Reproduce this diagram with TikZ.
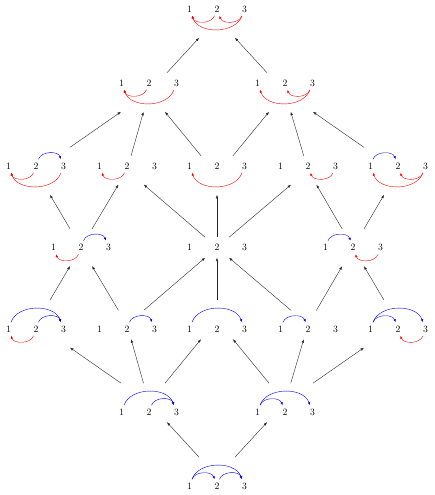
\documentclass[tikz,border=0pt]{standalone}
\usetikzlibrary{arrows.meta,fit}
\tikzset{
  x=1pt,y=1pt,
  lbl/.style={inner sep=3.33pt, font=\fontsize{9.7}{11}\selectfont},
  bluearc/.style={blue,-{Latex[length=3pt,width=2.4pt]}},
  redarc/.style={red,-{Latex[length=3pt,width=2.4pt]}},
  edge/.style={-{Latex[length=3.5pt,width=2.6pt]}, black!85},
  grpbox/.style={inner sep=3.33pt}
}
\newcommand\gname{}
\newcommand\grp[4]{%
  \renewcommand\gname{#1}%
  \begin{scope}[local bounding box=#1bb]
    \node[lbl] (#1-1) at ({#2-27.5},#3) {1};
    \node[lbl] (#1-2) at (#2,#3) {2};
    \node[lbl] (#1-3) at ({#2+27.5},#3) {3};
    #4
  \end{scope}
  \node[grpbox, fit=(#1bb)] (#1) {};
}
\newcommand\bl[2]{\draw[bluearc] (\gname-#1) to[bend left=70] (\gname-#2);}
\newcommand\rd[2]{\draw[redarc] (\gname-#1) to[bend left=70] (\gname-#2);}
\begin{document}
\begin{tikzpicture}
  % row 0
  \grp{r0}{217}{486}{\rd{2}{1}\rd{3}{2}\rd{3}{1}}
  % row 1
  \grp{r1a}{149}{412}{\rd{2}{1}\rd{3}{1}}
  \grp{r1b}{285}{412}{\rd{3}{1}\rd{3}{2}}
  % row 2
  \grp{r2a}{36}{329}{\bl{2}{3}\rd{2}{1}\rd{3}{1}}
  \grp{r2b}{127}{329}{\rd{2}{1}}
  \grp{r2c}{217}{329}{\rd{3}{1}}
  \grp{r2d}{308}{329}{\rd{3}{2}}
  \grp{r2e}{398}{329}{\bl{1}{2}\rd{3}{1}\rd{3}{2}}
  % row 3
  \grp{r3a}{81}{247.5}{\bl{2}{3}\rd{2}{1}}
  \grp{r3b}{217}{247.5}{}
  \grp{r3c}{353}{247.5}{\bl{1}{2}\rd{3}{2}}
  % row 4
  \grp{r4a}{36}{166}{\bl{1}{3}\bl{2}{3}\rd{2}{1}}
  \grp{r4b}{127}{166}{\bl{2}{3}}
  \grp{r4c}{217}{166}{\bl{1}{3}}
  \grp{r4d}{308}{166}{\bl{1}{2}}
  \grp{r4e}{398}{166}{\bl{1}{2}\bl{1}{3}\rd{3}{2}}
  % row 5
  \grp{r5a}{149}{83}{\bl{1}{3}\bl{2}{3}}
  \grp{r5b}{285}{83}{\bl{1}{2}\bl{1}{3}}
  % row 6
  \grp{r6}{217}{9}{\bl{1}{2}\bl{2}{3}\bl{1}{3}}
  % connectors
  \draw[edge] (r6) -- (r5a);
  \draw[edge] (r6) -- (r5b);
  \draw[edge] (r5a) -- (r4a);
  \draw[edge] (r5a) -- (r4b);
  \draw[edge] (r5a) -- (r4c);
  \draw[edge] (r5b) -- (r4c);
  \draw[edge] (r5b) -- (r4d);
  \draw[edge] (r5b) -- (r4e);
  \draw[edge] (r4a) -- (r3a);
  \draw[edge] (r4b) -- (r3a);
  \draw[edge] (r4b) -- (r3b);
  \draw[edge] (r4c) -- (r3b);
  \draw[edge] (r4d) -- (r3b);
  \draw[edge] (r4d) -- (r3c);
  \draw[edge] (r4e) -- (r3c);
  \draw[edge] (r3a) -- (r2a);
  \draw[edge] (r3a) -- (r2b);
  \draw[edge] (r3b) -- (r2b);
  \draw[edge] (r3b) -- (r2c);
  \draw[edge] (r3b) -- (r2d);
  \draw[edge] (r3c) -- (r2d);
  \draw[edge] (r3c) -- (r2e);
  \draw[edge] (r2a) -- (r1a);
  \draw[edge] (r2b) -- (r1a);
  \draw[edge] (r2c) -- (r1a);
  \draw[edge] (r2c) -- (r1b);
  \draw[edge] (r2d) -- (r1b);
  \draw[edge] (r2e) -- (r1b);
  \draw[edge] (r1a) -- (r0);
  \draw[edge] (r1b) -- (r0);
  \pgfresetboundingbox
  \useasboundingbox (0,0) rectangle (435,495);
\end{tikzpicture}
\end{document}
